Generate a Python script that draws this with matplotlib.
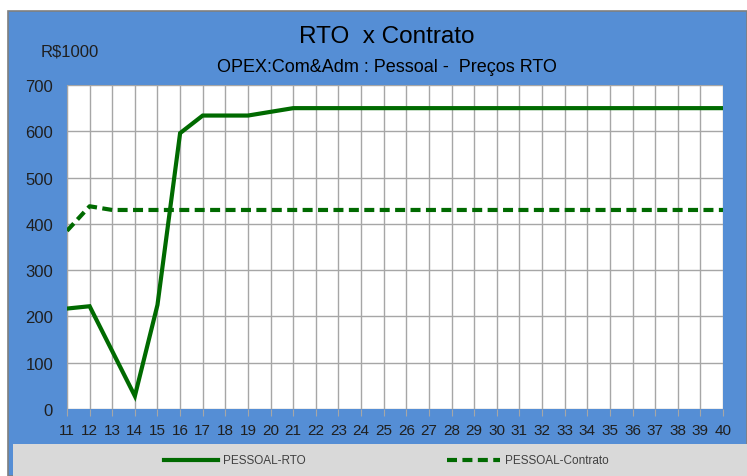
import matplotlib.pyplot as plt
from matplotlib.patches import Rectangle
from matplotlib.lines import Line2D

anos = list(range(11, 41))
rto = [217, 222, 125, 28, 225, 596, 634, 634, 634, 642] + [650] * 20
contrato = [385, 438, 430] + [430] * 27
series_nomes = ['PESSOAL-RTO', 'PESSOAL-Contrato']

plt.rcParams['font.family'] = ['Liberation Sans', 'DejaVu Sans']

W, H = 747, 477
fig = plt.figure(figsize=(W / 100, H / 100), dpi=100)
fig.patch.set_facecolor('white')

blue = '#558ed5'
# blue frame + grey legend band
fig.patches.append(Rectangle((8 / W, 0), 1 - 8 / W, 1 - 12 / H, transform=fig.transFigure,
                             facecolor=blue, edgecolor='#7f7f7f', lw=1.2, zorder=0))
fig.patches.append(Rectangle((13 / W, 0), 1 - 13 / W, (H - 445) / H, transform=fig.transFigure,
                             facecolor='#d9d9d9', edgecolor='none', zorder=0.5))

ax = fig.add_axes([67 / W, 1 - 410 / H, (723 - 67) / W, (410 - 86) / H])
ax.set_zorder(2)
ax.set_facecolor('white')
green = '#006a00'
dash = (0, (2.4, 1.3))
ax.plot(anos, rto, color=green, lw=3, solid_joinstyle='miter', zorder=3)
ax.plot(anos, contrato, color=green, lw=3, ls=dash, zorder=3)

ax.set_xlim(11, 40)
ax.set_ylim(0, 700)
ax.set_xticks(anos)
ax.set_yticks(range(0, 701, 100))
ax.grid(True, color='#a6a6a6', lw=1)
ax.set_axisbelow(True)
for s in ax.spines.values():
    s.set_visible(False)
ax.spines['left'].set_visible(True)
ax.spines['left'].set_color('#a6a6a6')
ax.tick_params(axis='x', length=5, color='#a6a6a6', labelsize=11, pad=5, labelcolor='#1f1f1f')
ax.tick_params(axis='y', length=0, labelsize=12, pad=10, labelcolor='#1f1f1f')

fig.text(387 / W, 1 - 37 / H, 'RTO  x Contrato', ha='center', va='center', fontsize=17.5, color='black')
fig.text(387 / W, 1 - 67 / H, 'OPEX:Com&Adm : Pessoal -  Preços RTO', ha='center', va='center',
         fontsize=13, color='black')
fig.text(70 / W, 1 - 52 / H, 'R$1000', ha='center', va='center', fontsize=12, color='#1f1f1f')

# legend drawn by hand in the grey band
ly = 1 - 461 / H
for (x0, x1, xt), nome, st in zip([(164, 218, 223), (447, 500, 505)], series_nomes, ['-', dash]):
    fig.add_artist(Line2D([x0 / W, x1 / W], [ly, ly], color=green, lw=3, ls=st, zorder=3))
    fig.text(xt / W, ly, nome, ha='left', va='center', fontsize=8.5, color='#404040', zorder=3)

fig.savefig('out.png', dpi=100, facecolor=fig.get_facecolor())
